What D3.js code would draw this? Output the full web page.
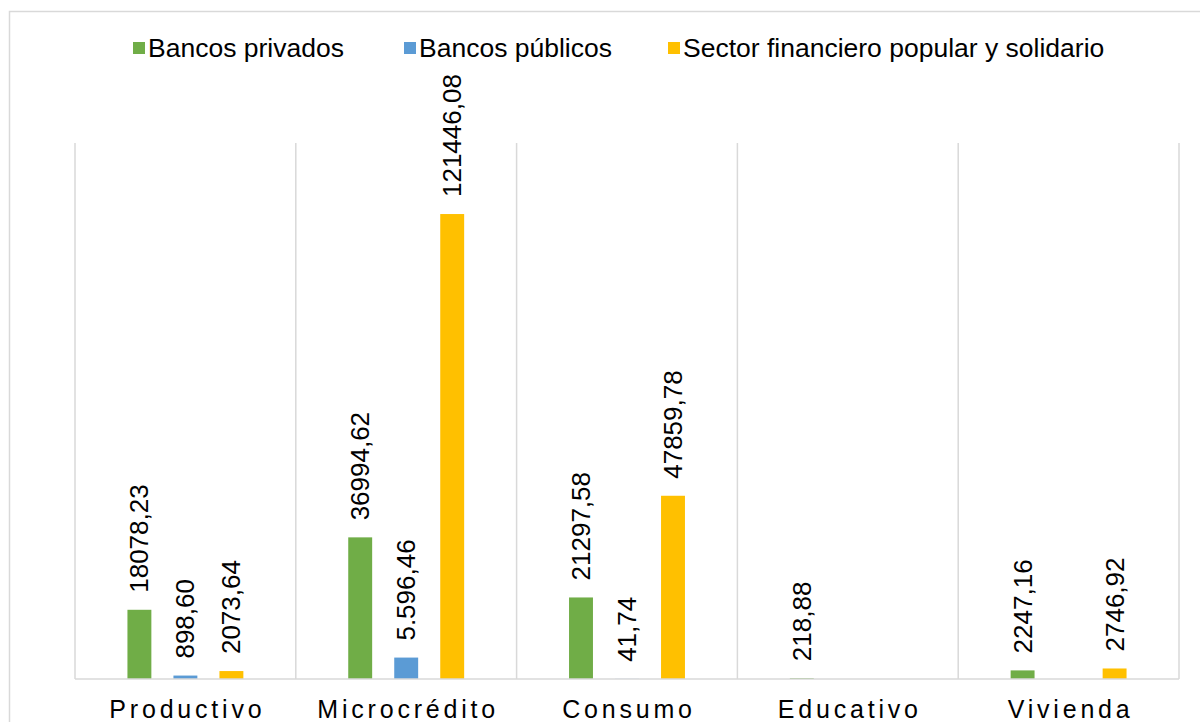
<!DOCTYPE html>
<html>
  <head>
    <meta charset="utf-8">
    <title>Cartera por tipo de crédito</title>
    <style>
    body { margin: 0; background: #fff; }
    text { font-family: "Liberation Sans", Arial, sans-serif; fill: #000; }
    </style>
  </head>
  <body>
    <script src="https://d3js.org/d3.v7.min.js"></script>
    <script>
      // Datos
      var categorias = ["Productivo", "Microcrédito", "Consumo", "Educativo", "Vivienda"];
      var series = ["Bancos privados", "Bancos públicos", "Sector financiero popular y solidario"];
      var colores = ["#70ad47", "#5b9bd5", "#ffc000"];
      var privados = [18078.23, 36994.62, 21297.58, 218.88, 2247.16];
      var publicos = [898.60, 5596.46, 41.74, null, null];
      var popular = [2073.64, 121446.08, 47859.78, null, 2746.92];
      var etiqPrivados = ["18078,23", "36994,62", "21297,58", "218,88", "2247,16"];
      var etiqPublicos = ["898,60", "5.596,46", "41,74", "", ""];
      var etiqPopular = ["2073,64", "121446,08", "47859,78", "", "2746,92"];

      var valores = [privados, publicos, popular];
      var etiquetas = [etiqPrivados, etiqPublicos, etiqPopular];

      var width = 1200, height = 722;
      var svg = d3.select("body").append("svg")
        .attr("width", width)
        .attr("height", height);

      // Marco del gráfico
      svg.append("rect")
        .attr("x", 9.5).attr("y", 11.5)
        .attr("width", 1300).attr("height", 800)
        .attr("fill", "none")
        .attr("stroke", "#d9d9d9")
        .attr("stroke-width", 1.5);

      var x0 = d3.scaleBand()
        .domain(categorias)
        .range([75, 1179]);

      var x1 = d3.scaleBand()
        .domain(series)
        .range([x0.bandwidth() * 0.1875, x0.bandwidth() * 0.8125])
        .paddingInner(0.48)
        .paddingOuter(0.24);

      var y = d3.scaleLinear()
        .domain([0, 140000])
        .range([679, 143]);

      // Separadores verticales
      svg.append("g")
        .selectAll("line")
        .data(d3.range(categorias.length + 1))
        .enter().append("line")
        .attr("x1", function(i) { return 75 + i * x0.step(); })
        .attr("x2", function(i) { return 75 + i * x0.step(); })
        .attr("y1", y(140000))
        .attr("y2", y(0))
        .attr("stroke", "#d9d9d9")
        .attr("stroke-width", 1.5);

      // Datos en filas
      var filas = [];
      series.forEach(function(s, j) {
        categorias.forEach(function(c, i) {
          if (valores[j][i] != null) {
            filas.push({cat: c, serie: s, j: j, v: valores[j][i], etiq: etiquetas[j][i]});
          }
        });
      });

      // Barras
      svg.append("g")
        .selectAll("rect")
        .data(filas)
        .enter().append("rect")
        .attr("x", function(d) { return x0(d.cat) + x1(d.serie); })
        .attr("y", function(d) { return y(d.v); })
        .attr("width", x1.bandwidth())
        .attr("height", function(d) { return y(0) - y(d.v); })
        .attr("fill", function(d) { return colores[d.j]; });

      // Eje horizontal
      svg.append("line")
        .attr("x1", 75).attr("x2", 1179)
        .attr("y1", y(0)).attr("y2", y(0))
        .attr("stroke", "#d9d9d9")
        .attr("stroke-width", 1.5);

      // Etiquetas de datos verticales
      svg.append("g")
        .selectAll("text")
        .data(filas)
        .enter().append("text")
        .attr("transform", function(d) {
          var cx = x0(d.cat) + x1(d.serie) + x1.bandwidth() / 2;
          return "translate(" + cx + "," + (y(d.v) - 17) + ") rotate(-90)";
        })
        .attr("dominant-baseline", "central")
        .style("font-size", "26px")
        .text(function(d) { return d.etiq; });

      // Etiquetas de categorías
      svg.append("g")
        .selectAll("text")
        .data(categorias)
        .enter().append("text")
        .attr("x", function(c) { return x0(c) + x0.bandwidth() / 2 + 2; })
        .attr("y", 718)
        .attr("text-anchor", "middle")
        .style("font-size", "25px")
        .style("letter-spacing", "3.8px")
        .text(function(c) { return c; });

      // Leyenda
      var legX = [133, 404, 668];
      var leyenda = svg.append("g")
        .selectAll("g")
        .data(series)
        .enter().append("g")
        .attr("transform", function(d, i) { return "translate(" + legX[i] + ",48)"; });
      leyenda.append("rect")
        .attr("x", 0).attr("y", -6)
        .attr("width", 12).attr("height", 12)
        .attr("fill", function(d, i) { return colores[i]; });
      leyenda.append("text")
        .attr("x", 15).attr("y", 0)
        .attr("dominant-baseline", "central")
        .style("font-size", "26.5px")
        .text(function(d) { return d; });
    </script>
  </body>
</html>
